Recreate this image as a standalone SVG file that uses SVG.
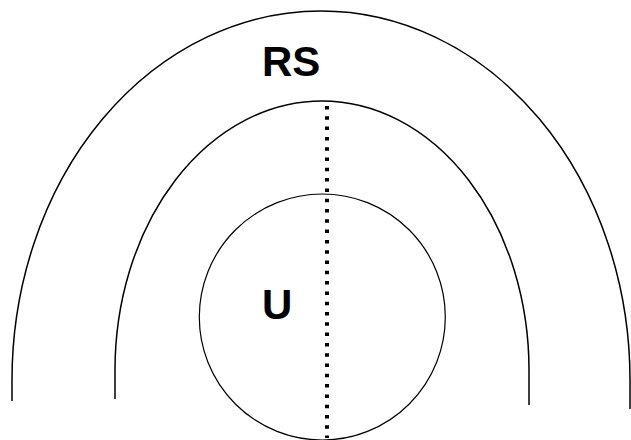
<svg xmlns="http://www.w3.org/2000/svg" width="631" height="440" viewBox="0 0 631 440">
<style>
.arc{fill:none;stroke:#000;stroke-width:1.5}
.circ{fill:none;stroke:#000;stroke-width:1.2}
.lbl{font-family:"Liberation Sans",Arial,sans-serif;font-weight:bold;font-size:42px;fill:#000}
.dash{stroke:#000;stroke-width:4;stroke-dasharray:3.5 6.8;fill:none}
</style>
<rect width="631" height="440" fill="#fff"/>
<g id="RS">
<path class="arc" d="M12,401 L12,380 A309,369 0 0 1 630,380 L630,409"/>
<path class="arc" d="M115,399 L115,370 A207,269 0 0 1 529,370 L529,405"/>
<text class="lbl" x="262" y="76">RS</text>
</g>
<g id="U">
<circle class="circ" cx="322.3" cy="317" r="123"/>
<text class="lbl" x="262" y="319">U</text>
</g>
<g id="connectors">
<line class="dash" x1="327" y1="106" x2="327" y2="438"/>
</g>
</svg>
